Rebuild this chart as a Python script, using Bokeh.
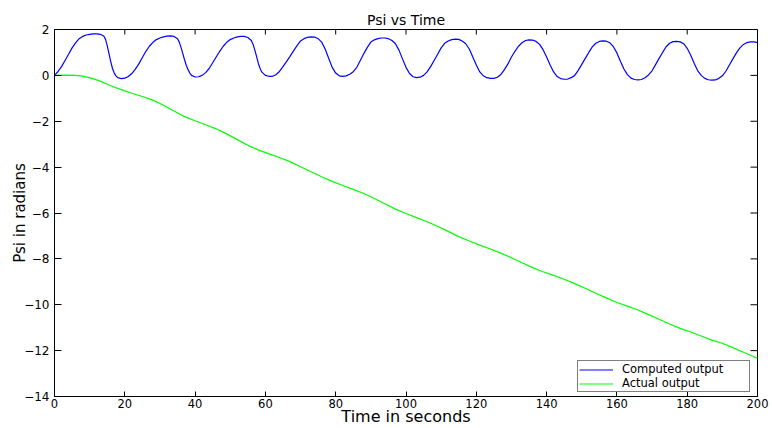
import math
from bokeh.plotting import figure
from bokeh.models import Range1d, FixedTicker, Legend, LegendItem
from bokeh.embed import file_html
from bokeh.resources import INLINE

# ---- data ----
t_computed = [0, 1, 2, 3, 4, 5, 6, 7, 8, 9, 10, 11, 12, 13, 14, 14.5, 15, 15.5, 16, 16.5, 17, 17.5, 18, 19, 20,
              21, 22, 23, 24, 25, 26, 27, 28, 29, 30, 31, 32, 33, 34, 35, 35.5, 36, 36.5, 37, 37.5, 38, 38.5, 39, 40,
              41, 42, 43, 44, 45, 46, 47, 48, 49, 50, 51, 52, 53, 54, 55, 56, 56.5, 57, 57.5, 58, 58.5, 59, 60,
              61, 62, 63, 64, 65, 66, 67, 68, 69, 70, 71, 72, 73, 74, 75, 76, 77, 78, 79, 80,
              81, 82, 83, 84, 85, 86, 87, 88, 89, 90, 91, 92, 93, 94, 95, 96, 97, 98, 99, 100,
              101, 102, 103, 104, 105, 106, 107, 108, 109, 110, 111, 112, 113, 114, 115, 116, 117, 118, 119, 120,
              121, 122, 123, 124, 125, 126, 127, 128, 129, 130, 131, 132, 133, 134, 135, 136, 137, 138, 139, 140,
              141, 142, 143, 144, 145, 146, 147, 148, 149, 150, 151, 152, 153, 154, 155, 156, 157, 158, 159, 160,
              161, 162, 163, 164, 165, 166, 167, 168, 169, 170, 171, 172, 173, 174, 175, 176, 177, 178, 179, 180,
              181, 182, 183, 184, 185, 186, 187, 188, 189, 190, 191, 192, 193, 194, 195, 196, 197, 198, 199, 200]
psi_computed = [0.0, 0.17, 0.38, 0.65, 0.92, 1.2, 1.42, 1.6, 1.7, 1.76, 1.79, 1.81, 1.81, 1.79, 1.72, 1.58, 1.3, 0.95, 0.6, 0.3, 0.1, -0.02, -0.1, -0.14, -0.12,
                -0.05, 0.08, 0.27, 0.5, 0.78, 1.05, 1.27, 1.44, 1.56, 1.63, 1.68, 1.71, 1.72, 1.7, 1.6, 1.45, 1.22, 0.95, 0.68, 0.43, 0.25, 0.1, 0.0, -0.07,
                -0.06, 0.0, 0.12, 0.3, 0.55, 0.8, 1.05, 1.27, 1.44, 1.56, 1.63, 1.68, 1.7, 1.7, 1.65, 1.52, 1.35, 1.1, 0.82, 0.52, 0.3, 0.14, 0.0,
                -0.04, -0.04, 0.03, 0.17, 0.38, 0.6, 0.83, 1.07, 1.3, 1.5, 1.6, 1.66, 1.68, 1.67, 1.6, 1.45, 1.15, 0.75, 0.35, 0.1,
                -0.02, -0.04, -0.02, 0.05, 0.16, 0.35, 0.65, 0.95, 1.22, 1.45, 1.55, 1.6, 1.63, 1.63, 1.6, 1.52, 1.38, 1.1, 0.72, 0.35,
                0.08, -0.06, -0.1, -0.08, 0.0, 0.15, 0.38, 0.65, 0.92, 1.2, 1.4, 1.5, 1.56, 1.58, 1.57, 1.5, 1.38, 1.15, 0.8, 0.45,
                0.15, -0.02, -0.1, -0.13, -0.13, -0.08, 0.04, 0.25, 0.5, 0.8, 1.05, 1.27, 1.42, 1.52, 1.55, 1.54, 1.48, 1.35, 1.12, 0.8,
                0.45, 0.15, -0.05, -0.14, -0.17, -0.16, -0.1, 0.0, 0.22, 0.48, 0.74, 1.0, 1.24, 1.4, 1.48, 1.5, 1.49, 1.42, 1.25, 0.98,
                0.62, 0.28, 0.03, -0.12, -0.18, -0.2, -0.18, -0.1, 0.02, 0.2, 0.47, 0.74, 1.0, 1.25, 1.4, 1.47, 1.48, 1.46, 1.38, 1.18,
                0.88, 0.52, 0.2, 0.0, -0.13, -0.19, -0.21, -0.2, -0.13, -0.02, 0.18, 0.45, 0.72, 0.98, 1.2, 1.35, 1.43, 1.46, 1.46, 1.43]

t_actual = [0, 3, 6, 8, 10, 13, 16, 19, 22, 25, 28, 31, 34, 37, 40, 43, 46, 49, 52, 55, 58, 61, 64, 67, 70,
            73, 76, 79, 82, 85, 88, 91, 94, 97, 100, 103, 106, 109, 112, 115, 118, 121, 124, 127, 130,
            133, 136, 139, 142, 145, 148, 151, 154, 157, 160, 163, 166, 169, 172, 175, 178, 181, 184, 187,
            190, 193, 196, 199, 200]
psi_actual = [0.0, 0.01, 0.0, -0.03, -0.1, -0.25, -0.45, -0.62, -0.78, -0.92, -1.08, -1.3, -1.55, -1.8, -1.98,
              -2.15, -2.33, -2.55, -2.8, -3.05, -3.25, -3.42, -3.58, -3.76, -3.98, -4.2, -4.42, -4.62, -4.8,
              -4.97, -5.15, -5.37, -5.6, -5.83, -6.02, -6.2, -6.38, -6.58, -6.8, -7.03, -7.22, -7.4, -7.57,
              -7.75, -7.95, -8.17, -8.38, -8.56, -8.72, -8.89, -9.08, -9.28, -9.5, -9.7, -9.9, -10.06, -10.23,
              -10.43, -10.63, -10.84, -11.03, -11.19, -11.36, -11.54, -11.68, -11.87, -12.07, -12.27, -12.33]

x_ticks = [0, 20, 40, 60, 80, 100, 120, 140, 160, 180, 200]
y_ticks = [-14, -12, -10, -8, -6, -4, -2, 0, 2]
y_tick_labels = ["\u221214", "\u221212", "\u221210", "\u22128", "\u22126", "\u22124", "\u22122", "0", "2"]

FONT = "DejaVu Sans"
x_lo, x_hi = x_ticks[0], x_ticks[-1]
y_lo, y_hi = y_ticks[0], y_ticks[-1]

p = figure(width=772, height=428, x_range=Range1d(x_lo, x_hi), y_range=Range1d(y_lo, y_hi),
           output_backend="svg", toolbar_location=None, title="Psi vs Time",
           min_border_left=54, min_border_right=15, min_border_top=29, min_border_bottom=31)
p.title.align = "center"
p.title.text_font = FONT
p.title.text_font_size = "14px"
p.title.text_font_style = "normal"
p.title.text_color = "black"
p.title.standoff = 4
p.outline_line_color = "black"
p.outline_line_width = 1
p.xgrid.visible = False
p.ygrid.visible = False
p.background_fill_color = "white"
p.border_fill_color = "white"

r1 = p.line(t_computed, psi_computed, line_color="#0000ff", line_width=1.2)
r2 = p.line(t_actual, psi_actual, line_color="#00ff00", line_width=1.2)

# axes (bottom / left), ticks pointing inwards
xb = p.xaxis[0]
xb.ticker = FixedTicker(ticks=x_ticks)
xb.major_tick_in = 5
xb.major_tick_out = 0
xb.minor_tick_line_color = None
xb.axis_line_color = "black"
xb.major_tick_line_color = "black"
xb.major_label_text_font = FONT
xb.major_label_text_font_size = "11.5px"
xb.major_label_text_color = "black"
xb.major_label_standoff = 2
xb.axis_label = "Time in seconds"
xb.axis_label_text_font = FONT
xb.axis_label_text_font_size = "16px"
xb.axis_label_text_font_style = "normal"
xb.axis_label_text_color = "black"
xb.axis_label_standoff = -4

yl = p.yaxis[0]
yl.ticker = FixedTicker(ticks=y_ticks)
yl.major_tick_in = 7
yl.major_tick_out = 0
yl.minor_tick_line_color = None
yl.axis_line_color = "black"
yl.major_tick_line_color = "black"
yl.major_label_text_font = FONT
yl.major_label_text_font_size = "12px"
yl.major_label_text_color = "black"
yl.major_label_standoff = 5
yl.major_label_overrides = {v: s for v, s in zip(y_ticks, y_tick_labels)}
yl.axis_label = "Psi in radians"
yl.axis_label_text_font = FONT
yl.axis_label_text_font_size = "15px"
yl.axis_label_text_font_style = "normal"
yl.axis_label_text_color = "black"
yl.axis_label_standoff = -8

# inward ticks on the top and right edges of the box
p.ray(x=x_ticks, y=[y_hi] * len(x_ticks), length=5, length_units="screen",
      angle=-math.pi / 2, line_color="black", line_width=1)
p.ray(x=[x_hi] * len(y_ticks), y=y_ticks, length=7, length_units="screen",
      angle=math.pi, line_color="black", line_width=1)

legend = Legend(items=[LegendItem(label="Computed output", renderers=[r1]),
                       LegendItem(label="Actual output", renderers=[r2])],
                location=(523, 4))
legend.label_text_font = FONT
legend.label_text_font_size = "11.5px"
legend.label_text_color = "black"
legend.padding = 1
legend.spacing = 0
legend.margin = 0
legend.glyph_width = 34
legend.glyph_height = 11
legend.label_height = 11
legend.label_standoff = 9
legend.label_width = 126
legend.border_line_color = "black"
legend.border_line_width = 1
legend.background_fill_alpha = 1
p.add_layout(legend)

open("out.html", "w").write(file_html(p, INLINE))
